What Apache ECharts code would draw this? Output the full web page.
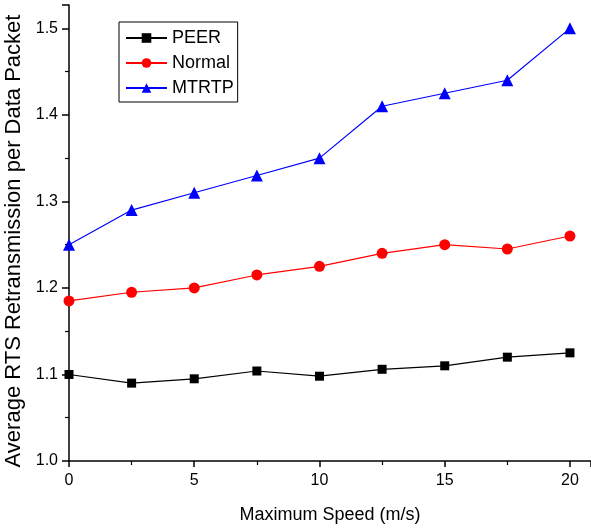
<!DOCTYPE html>
<html>
<head>
<meta charset="utf-8">
<script src="https://cdn.jsdelivr.net/npm/echarts@6/dist/echarts.min.js"></script>
<style>
  html, body { margin: 0; padding: 0; background: #fff; }
  #chart { width: 591px; height: 528px; }
</style>
</head>
<body>
<div id="chart"></div>
<script>
// speeds (m/s)
var speeds = [0, 2.5, 5, 7.5, 10, 12.5, 15, 17.5, 20];
var peer   = [1.100, 1.090, 1.095, 1.104, 1.098, 1.106, 1.110, 1.120, 1.125];
var normal = [1.185, 1.195, 1.200, 1.215, 1.225, 1.240, 1.250, 1.245, 1.260];
var mtrtp  = [1.250, 1.290, 1.310, 1.330, 1.350, 1.410, 1.425, 1.440, 1.500];

var pairs = function (ys) {
    var out = [];
    for (var i = 0; i < speeds.length; i++) out.push([speeds[i], ys[i]]);
    return out;
};

var myChart = echarts.init(document.getElementById("chart"));
var font = "Liberation Sans, Arial, sans-serif";

var option = {
    animation: false,
    backgroundColor: '#fff',
    grid: { left: 69, right: 0, top: 5, bottom: 67, containLabel: false, outerBoundsMode: 'none' },
    legend: {
        left: 119, top: 22,
        orient: 'vertical',
        itemWidth: 41, itemHeight: 12, itemGap: 7,
        padding: [7, 4, 5, 6],
        borderColor: '#000', borderWidth: 1,
        textStyle: { fontFamily: font, fontSize: 18, color: '#000' },
        data: ['PEER', 'Normal', 'MTRTP']
    },
    xAxis: {
        type: 'value',
        min: 0, max: 20.84, interval: 5,
        name: 'Maximum Speed (m/s)',
        nameLocation: 'middle', nameGap: 45,
        nameTextStyle: { fontFamily: font, fontSize: 18, color: '#000' },
        axisLine: { lineStyle: { color: '#000', width: 1.5 } },
        axisTick: { length: 6, lineStyle: { color: '#000', width: 1.5 } },
        minorTick: { show: true, splitNumber: 2, length: 4, lineStyle: { color: '#000', width: 1.2 } },
        axisLabel: {
            fontFamily: font, fontSize: 16, color: '#000', margin: 12,
            formatter: function (v) { return v % 5 === 0 ? v : ''; }
        },
        splitLine: { show: false }
    },
    yAxis: {
        type: 'value',
        min: 1.0, max: 1.527, interval: 0.1,
        name: 'Average RTS Retransmission per Data Packet',
        nameLocation: 'middle', nameGap: 40,
        nameTextStyle: { fontFamily: font, fontSize: 22, color: '#000', padding: [0, 16, 0, 0] },
        axisLine: { show: true, lineStyle: { color: '#000', width: 1.5 } },
        axisTick: { show: true, length: 7, lineStyle: { color: '#000', width: 1.5 } },
        minorTick: { show: true, splitNumber: 2, length: 4, lineStyle: { color: '#000', width: 1.2 } },
        axisLabel: {
            fontFamily: font, fontSize: 16, color: '#000', margin: 11,
            formatter: function (v) {
                var r = Math.round(v * 10);
                return Math.abs(v * 10 - r) < 1e-6 ? (r / 10).toFixed(1) : '';
            }
        },
        splitLine: { show: false }
    },
    series: [
        {
            name: 'PEER', type: 'line', data: pairs(peer),
            symbol: 'rect', symbolSize: 9,
            lineStyle: { color: '#000', width: 1.2 },
            itemStyle: { color: '#000' }
        },
        {
            name: 'Normal', type: 'line', data: pairs(normal),
            symbol: 'circle', symbolSize: 11,
            lineStyle: { color: '#ff0000', width: 1.2 },
            itemStyle: { color: '#ff0000' }
        },
        {
            name: 'MTRTP', type: 'line', data: pairs(mtrtp),
            symbol: 'triangle', symbolSize: 12,
            lineStyle: { color: '#0000ff', width: 1.2 },
            itemStyle: { color: '#0000ff' }
        }
    ]
};
myChart.setOption(option);
</script>
</body>
</html>
